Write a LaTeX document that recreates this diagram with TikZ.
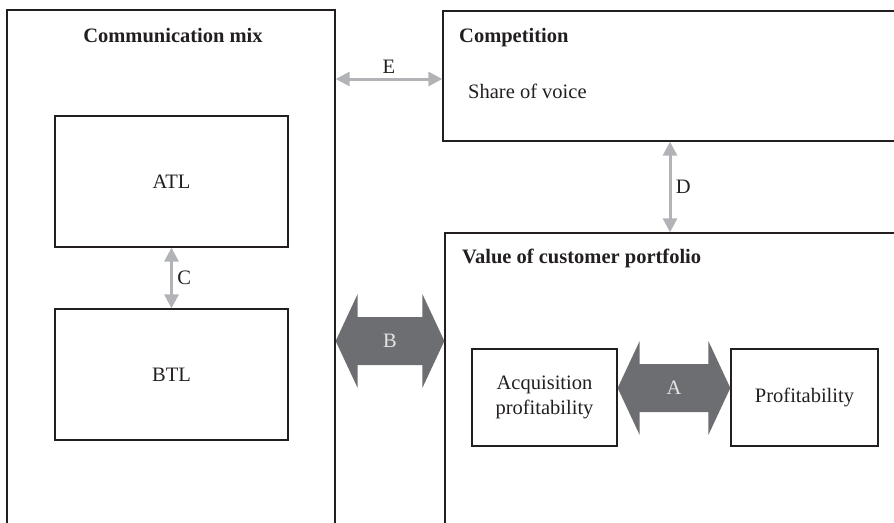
\documentclass[tikz,border=0pt]{standalone}
\usepackage{fontspec}
\setmainfont{Liberation Serif}
\usetikzlibrary{arrows.meta,calc}
\definecolor{inkgray}{HTML}{231F20}
\definecolor{linkgray}{HTML}{B1B3B6}
\definecolor{fatgray}{HTML}{6D6E71}
\begin{document}
\begin{tikzpicture}[x=1pt,y=-1pt,
  every node/.style={font=\fontsize{20.5}{25}\selectfont,text=inkgray},
  box/.style={draw=inkgray,line width=1.3pt,rectangle,inner sep=0pt},
  head/.style={font=\fontsize{20.5}{25}\selectfont\bfseries,anchor=base west,inner sep=0pt},
  link/.style={linkgray,line width=3pt,{Triangle[length=14pt,width=14pt]}-{Triangle[length=14pt,width=14pt]}},
  fat/.style={fill=fatgray},
  fatlab/.style={text=white!90!black}]
\useasboundingbox (0,0) rectangle (894,522);
\clip (0,0) rectangle (894,522);
% outer boxes (run off the page)
\node[box,minimum width=328pt,minimum height=530pt] (mix) at (171,275) {};
\node[box,minimum width=454pt,minimum height=130pt] (comp) at (670,76) {};
\node[box,minimum width=450pt,minimum height=307pt] (value) at (670,386.5) {};
\node[head,anchor=base] (mixhead) at (173,42) {Communication mix};
\node[head] (comphead) at (459,42) {Competition};
\node[anchor=base west,inner sep=0pt] (sov) at (468,98) {Share of voice};
\node[head] (valhead) at (462,263) {Value of customer portfolio};
% inner boxes
\foreach \n/\x/\y/\w/\h/\t in {atl/171.5/181.5/233/131/ATL,btl/171.5/374.5/233/131/BTL,prof/804.5/397.5/147/97/Profitability} {
  \node[box,minimum width=\w pt,minimum height=\h pt] (\n) at (\x,\y) {\t};
}
\node[box,minimum width=145pt,minimum height=97pt,align=center] (acq) at (544.5,397.5) {Acquisition\\profitability};
% levels of the arrows
\coordinate (elev) at (0,79);
\coordinate (blev) at (0,341);
\coordinate (alev) at (0,388);
\draw[link] (mix.east |- elev) -- node[above=1pt] {E} (comp.west |- elev);
\draw[link] (atl.south) -- node[right=1pt] {C} (btl.north);
\draw[link] (comp.south) -- node[right=1pt] {D} (value.north);
% fat two-way arrows
\coordinate (bl) at (mix.east |- blev);
\coordinate (br) at (value.west |- blev);
\coordinate (al) at (acq.east |- alev);
\coordinate (ar) at (prof.west |- alev);
\foreach \l/\r/\lab in {bl/br/B,al/ar/A} {
  \fill[fat] (\l) -- ++(22,-47) -- ++(0,23) -- ($(\r)+(-22,-24)$) -- ++(0,-23) -- (\r)
    -- ++(-22,47) -- ++(0,-23) -- ($(\l)+(22,24)$) -- ++(0,23) -- cycle;
  \node[fatlab] (lab\lab) at ($(\l)!.5!(\r)$) {\lab};
}
\end{tikzpicture}
\end{document}
